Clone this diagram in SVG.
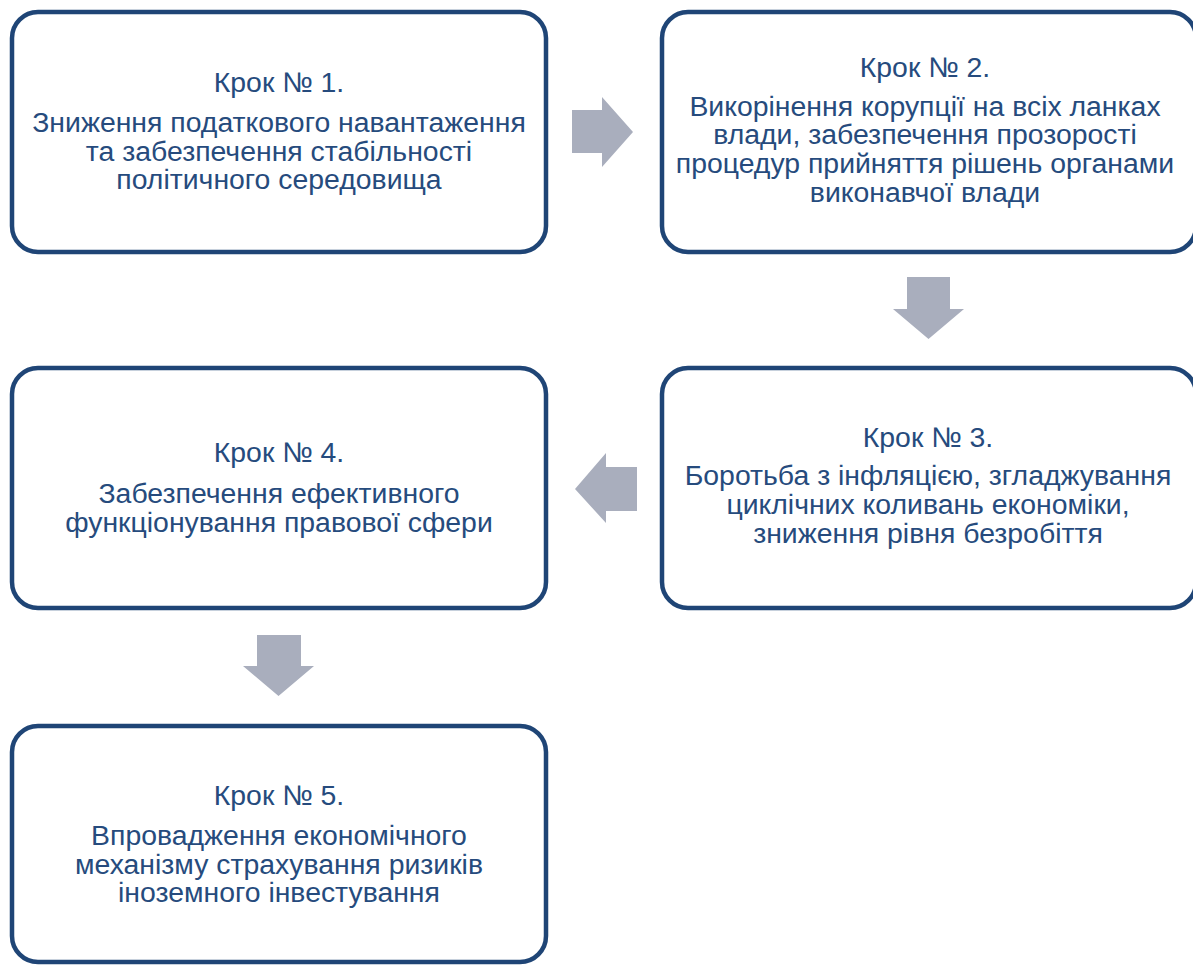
<svg xmlns="http://www.w3.org/2000/svg" width="1193" height="965" viewBox="0 0 1193 965">
<style>
.box{fill:#fff;stroke:#1f4576;stroke-width:4.5}
.t{font-family:"Liberation Sans",Arial,sans-serif;font-size:28.4px;fill:#264b7d;text-anchor:middle}
.arr{fill:#a9aebd}
</style>
<rect width="1193" height="965" fill="#fff"/>
<g id="step1">
<rect class="box" x="12" y="12" width="534" height="240" rx="26"/>
<text class="t" x="279" y="92">Крок № 1.</text>
<text class="t" x="279" y="132">Зниження податкового навантаження</text>
<text class="t" x="279" y="161">та забезпечення стабільності</text>
<text class="t" x="279" y="189">політичного середовища</text>
</g>
<g id="step2">
<rect class="box" x="662" y="12" width="534" height="240" rx="26"/>
<text class="t" x="925" y="77">Крок № 2.</text>
<text class="t" x="925" y="116">Викорінення корупції на всіх ланках</text>
<text class="t" x="925" y="144">влади, забезпечення прозорості</text>
<text class="t" x="925" y="173">процедур прийняття рішень органами</text>
<text class="t" x="925" y="202">виконавчої влади</text>
</g>
<g id="step3">
<rect class="box" x="662" y="368" width="534" height="240" rx="26"/>
<text class="t" x="928" y="447">Крок № 3.</text>
<text class="t" x="928" y="485">Боротьба з інфляцією, згладжування</text>
<text class="t" x="928" y="514">циклічних коливань економіки,</text>
<text class="t" x="928" y="543">зниження рівня безробіття</text>
</g>
<g id="step4">
<rect class="box" x="12" y="368" width="534" height="240" rx="26"/>
<text class="t" x="279" y="462">Крок № 4.</text>
<text class="t" x="279" y="503">Забезпечення ефективного</text>
<text class="t" x="279" y="532">функціонування правової сфери</text>
</g>
<g id="step5">
<rect class="box" x="12" y="726" width="534" height="236" rx="26"/>
<text class="t" x="279" y="805">Крок № 5.</text>
<text class="t" x="279" y="845">Впровадження економічного</text>
<text class="t" x="279" y="874">механізму страхування ризиків</text>
<text class="t" x="279" y="902">іноземного інвестування</text>
</g>
<g id="connectors">
<polygon class="arr" points="572,110 602,110 602,97 633,132 602,167 602,153 572,153"/>
<polygon class="arr" points="907,277 950,277 950,309 964,309 928.5,339 893,309 907,309"/>
<polygon class="arr" points="637,467 606,467 606,453 575,489 606,523 606,511 637,511"/>
<polygon class="arr" points="257,635 301,635 301,666 314,666 278.5,696 243,666 257,666"/>
</g>
</svg>
